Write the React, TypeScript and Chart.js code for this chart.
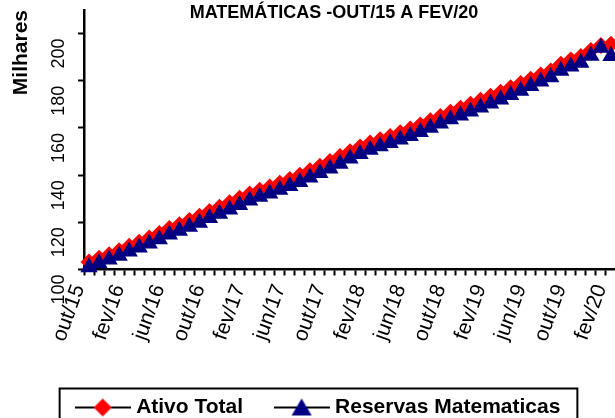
import { useEffect, useRef } from "react";
import { Chart, registerables } from "chart.js";

Chart.register(...registerables);

const FONT = "'Liberation Sans', Arial, sans-serif";

const categories = [
  "out/15", "nov/15", "dez/15",
  "jan/16", "fev/16", "mar/16", "abr/16", "mai/16", "jun/16", "jul/16", "ago/16", "set/16", "out/16", "nov/16", "dez/16",
  "jan/17", "fev/17", "mar/17", "abr/17", "mai/17", "jun/17", "jul/17", "ago/17", "set/17", "out/17", "nov/17", "dez/17",
  "jan/18", "fev/18", "mar/18", "abr/18", "mai/18", "jun/18", "jul/18", "ago/18", "set/18", "out/18", "nov/18", "dez/18",
  "jan/19", "fev/19", "mar/19", "abr/19", "mai/19", "jun/19", "jul/19", "ago/19", "set/19", "out/19", "nov/19", "dez/19",
  "jan/20", "fev/20",
];

const labeledCategories = [
  "out/15", "fev/16", "jun/16", "out/16", "fev/17", "jun/17", "out/17",
  "fev/18", "jun/18", "out/18", "fev/19", "jun/19", "out/19", "fev/20",
];

const ativoTotal = [
  103.2, 104.8, 106.3, 108.0, 109.9, 111.6, 113.4, 115.3, 117.4, 119.0,
  120.8, 122.6, 124.6, 126.4, 128.3, 130.2, 132.0, 133.6, 135.0, 136.6,
  138.2, 140.0, 141.9, 143.8, 145.8, 147.9, 149.9, 151.9, 153.6, 155.0,
  156.4, 158.0, 159.6, 161.3, 163.1, 164.9, 166.7, 168.3, 170.0, 171.7,
  173.4, 175.1, 177.0, 178.8, 180.6, 182.4, 184.1, 187.0, 188.8, 190.3,
  192.8, 195.0, 195.5,
];

const reservasMatematicas = [
  101.0, 102.6, 104.2, 105.8, 107.6, 109.3, 111.0, 112.8, 114.8, 116.4,
  118.1, 119.8, 121.8, 123.6, 125.4, 127.3, 129.2, 130.8, 132.2, 133.8,
  135.4, 137.1, 139.0, 140.9, 142.8, 144.8, 147.0, 149.0, 150.8, 152.2,
  153.6, 155.1, 156.6, 158.3, 160.1, 161.9, 163.7, 165.3, 167.0, 168.7,
  170.4, 172.1, 174.0, 175.8, 177.8, 179.7, 181.5, 184.2, 186.0, 187.6,
  190.6, 194.0, 190.5,
];

const titleText = "MATEMÁTICAS -OUT/15 A FEV/20";
const yTitle = "Milhares";
const seriesNames = ["Ativo Total", "Reservas Matematicas"];

function makeLegendSymbol(shape: "diamond" | "triangle", color: string) {
  const c = document.createElement("canvas");
  c.width = 56;
  c.height = 20;
  const g = c.getContext("2d")!;
  g.strokeStyle = "#000";
  g.lineWidth = 2;
  g.beginPath();
  g.moveTo(0, 10);
  g.lineTo(56, 10);
  g.stroke();
  g.fillStyle = color;
  g.beginPath();
  if (shape === "diamond") {
    g.moveTo(19, 10);
    g.lineTo(28, 1);
    g.lineTo(37, 10);
    g.lineTo(28, 19);
  } else {
    g.moveTo(28, 1);
    g.lineTo(38, 18);
    g.lineTo(18, 18);
  }
  g.closePath();
  g.fill();
  return c;
}

const shiftBlocks = {
  id: "shiftBlocks",
  afterLayout(chart: any) {
    const t = chart.titleBlock;
    if (t) {
      t.left += 26;
      t.right += 26;
    }
    const l = chart.legend;
    if (l) {
      l.left += 12;
      l.right += 12;
    }
  },
};

const legendFrame = {
  id: "legendFrame",
  afterDraw(chart: any) {
    const hb = chart.legend && chart.legend.legendHitBoxes;
    if (!hb || !hb.length) return;
    const first = hb[0];
    const last = hb[hb.length - 1];
    const ctx = chart.ctx;
    ctx.save();
    ctx.strokeStyle = "#000";
    ctx.lineWidth = 2;
    ctx.strokeRect(
      first.left - 20,
      first.top - 8.5,
      last.left + last.width - first.left + 37,
      first.height + 17
    );
    ctx.restore();
  },
};

export default function App() {
  const ref = useRef<HTMLCanvasElement | null>(null);

  useEffect(() => {
    if (!ref.current) return;
    const diamondSym = makeLegendSymbol("diamond", "#FF0000");
    const triSym = makeLegendSymbol("triangle", "#000080");
    const chart = new Chart(ref.current, {
      type: "line",
      data: {
        labels: categories,
        datasets: [
          {
            label: seriesNames[0],
            data: ativoTotal,
            borderColor: "#000",
            borderWidth: 1,
            pointStyle: "rectRot",
            pointRadius: 8.5,
            pointBackgroundColor: "#FF0000",
            pointBorderColor: "#FF0000",
            pointBorderWidth: 0,
            clip: false,
            order: 1,
          } as any,
          {
            label: seriesNames[1],
            data: reservasMatematicas,
            borderColor: "#000",
            borderWidth: 1,
            pointStyle: "triangle",
            pointRadius: 10,
            pointBackgroundColor: "#000080",
            pointBorderColor: "#000080",
            pointBorderWidth: 0,
            clip: false,
            order: 0,
          } as any,
        ],
      },
      options: {
        animation: false,
        responsive: false,
        maintainAspectRatio: false,
        layout: { padding: { left: 0, right: 24, top: 0, bottom: 0 } },
        plugins: {
          title: {
            display: true,
            text: titleText,
            color: "#000",
            font: { family: FONT, size: 18, weight: "bold" },
            padding: { top: 0, bottom: -13.6 },
          },
          legend: {
            position: "bottom",
            labels: {
              usePointStyle: true,
              pointStyleWidth: 46,
              padding: 35.5,
              color: "#000",
              font: { family: FONT, size: 21, weight: "bold" },
              sort: (a: any, b: any) => a.datasetIndex - b.datasetIndex,
              generateLabels: (chart: any) =>
                chart.data.datasets.map((ds: any, i: number) => ({
                  text: ds.label,
                  datasetIndex: i,
                  pointStyle: i === 0 ? diamondSym : triSym,
                  fillStyle: "#000",
                  strokeStyle: "#000",
                  lineWidth: 0,
                  hidden: false,
                  fontColor: "#000",
                })),
            },
          },
          tooltip: { enabled: false },
        },
        scales: {
          x: {
            type: "category",
            offset: true,
            grid: {
              display: true,
              drawOnChartArea: false,
              offset: true,
              tickLength: 6,
              tickWidth: 2,
              tickColor: "#000",
            },
            border: { display: true, color: "#000", width: 2.5 },
            ticks: {
              autoSkip: false,
              minRotation: 70,
              maxRotation: 70,
              padding: 9,
              labelOffset: -10,
              color: "#000",
              font: { family: FONT, size: 21, lineHeight: 0.3 },
              callback: (_v: any, index: number) =>
                labeledCategories.includes(categories[index]) ? categories[index] : "",
            },
            afterFit: (s: any) => {
              s.height = 92;
              s.paddingLeft = 0;
              s.paddingRight = 0;
            },
          },
          y: {
            min: 100,
            max: 210,
            grid: {
              display: true,
              drawOnChartArea: false,
              tickLength: 6,
              tickWidth: 2,
              tickColor: "#000",
            },
            border: { display: true, color: "#000", width: 2.5 },
            ticks: {
              stepSize: 20,
              includeBounds: false,
              minRotation: 90,
              maxRotation: 90,
              padding: 19,
              color: "#000",
              font: { family: FONT, size: 18 },
              callback: (v: any) => String(v) + " ",
            },
            title: {
              display: true,
              text: yTitle,
              align: "end",
              color: "#000",
              font: { family: FONT, size: 21, weight: "bold" },
              padding: { top: 9, bottom: 0 },
            },
            afterFit: (s: any) => {
              s.width = 84;
              s.paddingTop = 0;
              s.paddingBottom = 0;
            },
          },
        },
      } as any,
      plugins: [shiftBlocks, legendFrame],
    });
    return () => chart.destroy();
  }, []);

  return (
    <div
      style={{
        position: "fixed",
        left: 0,
        top: 0,
        width: 615,
        height: 418,
        overflow: "hidden",
        background: "#fff",
      }}
    >
      <canvas ref={ref} width={640} height={428} style={{ display: "block" }} />
    </div>
  );
}
